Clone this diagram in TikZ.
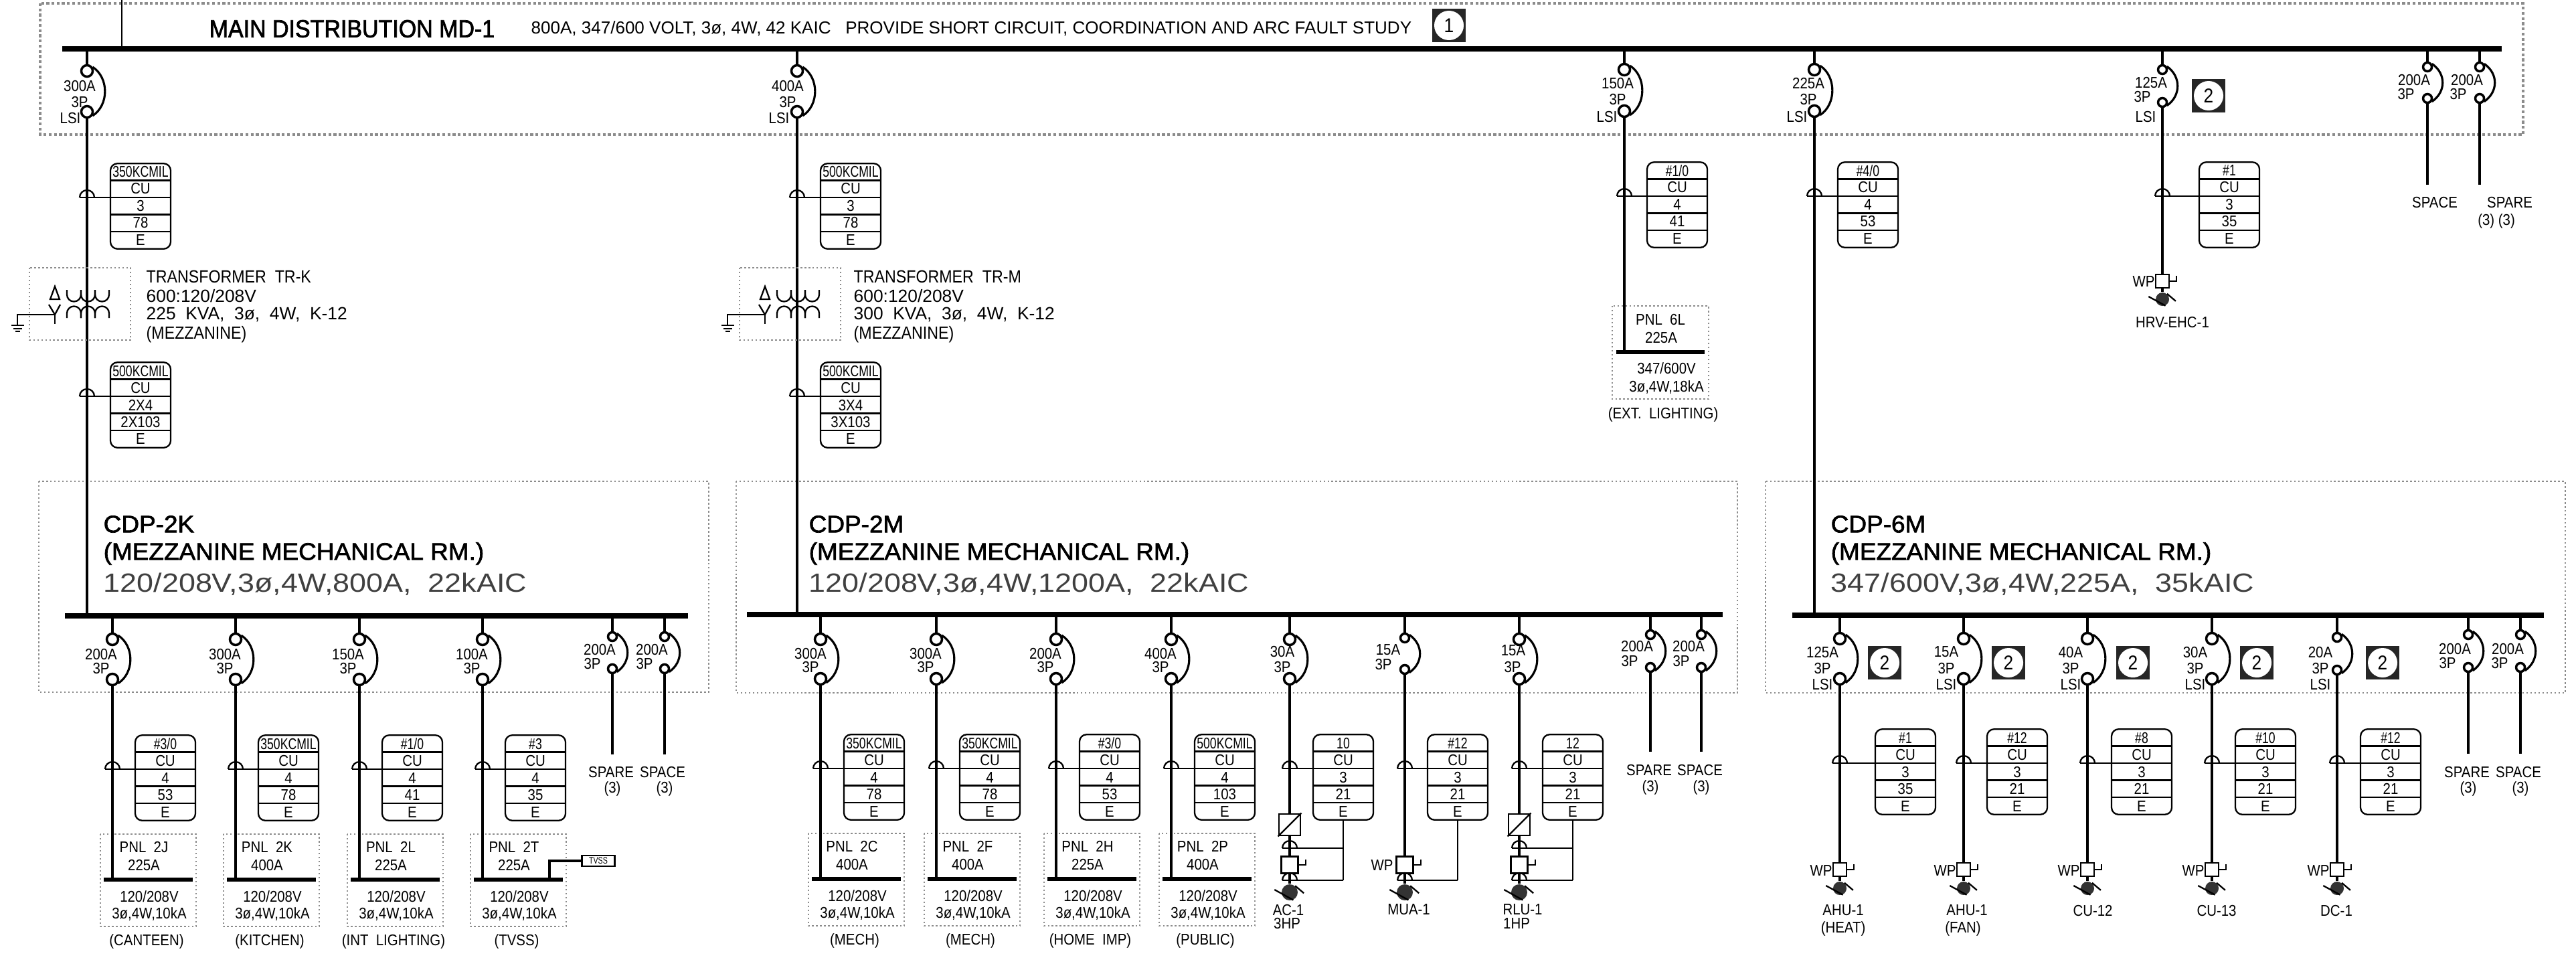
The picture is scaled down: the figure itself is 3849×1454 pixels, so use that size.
\documentclass[tikz,border=0pt]{standalone}
\usepackage{fontspec}
\newfontfamily\cadfont[FakeStretch=0.88]{Liberation Sans}
\newfontfamily\cadnarrow[FakeStretch=0.76]{Liberation Sans}
\newfontfamily\cadmid[FakeStretch=1.0]{Liberation Sans}
\newfontfamily\cadwide[FakeStretch=1.14]{Liberation Sans}
\newfontfamily\cadtitle[FakeStretch=0.92,FakeBold=2]{Liberation Sans}
\newfontfamily\cadhead[FakeStretch=1.03,FakeBold=2]{Liberation Sans}

\newcommand{\brk}[7]{
	\node [#6] (#1t) at (#2,#3) {};
	\node [#6] (#1b) at (#2,#4) {};
	\draw [feeder] (#1t) -- (#1t |- #7);
	\draw [brkarc] (#1t.35) .. controls (#2+#5+3,#3+10) and (#2+#5+3,#4-10) .. (#1b.-35);
}
\newcommand{\rating}[6]{
	\node [lbl] (#1a) at (#2,#4) {#6};
	\node [lbl] (#1p) at (#3,#4+#5) {3P};
}
\newcommand{\run}[2]{\draw [feeder] (#1) -- (#1 |- #2);}
\newcommand{\wirebox}[8]{
	\node [wbox] (#1) at (#2+45,#3+64) {};
	\node [lbl,font=\cadnarrow\fontsize{6.6}{7}\selectfont] (#1v) at (#2+45,#3+13) {#4};
	\node [lbl] (#1w) at (#2+45,#3+38) {#5};
	\node [lbl] (#1x) at (#2+45,#3+64) {#6};
	\node [lbl] (#1y) at (#2+45,#3+89) {#7};
	\node [lbl] (#1z) at (#2+45,#3+115) {#8};
	\foreach \k in {1,...,4} {
		\coordinate (#1r\k) at (#2,#3+\k*25.5);
		\draw [wire] (#1r\k) -- ++(90,0);
	}
}
\newcommand{\tap}[3]{
	\coordinate (#1) at (#2 |- #3);
	\draw [wire] (#1) ++(-11,0) arc [start angle=180,delta angle=180,radius=11];
	\draw [wire] (#1) ++(-11,0) -- (#3);
}
\newcommand{\panel}[8]{
	\draw [dotbox] (#2-18,#3-68) rectangle (#2+125,#3+70);
	\coordinate (#1l) at (#2-13,#3);
	\coordinate (#1r) at (#2+120,#3);
	\draw [pbus] (#1l) -- (#1r);
	\node [lbl] (#1a) at (#2+47,#3-49) {#4};
	\node [lbl] (#1b) at (#2+47,#3-22) {#5};
	\node [lbl] (#1c) at (#2+55,#3+25) {#6};
	\node [lbl] (#1d) at (#2+55,#3+52) {#7};
	\node [lbl] (#1e) at (#2+51,#3+92) {#8};
}
\newcommand{\starter}[6]{
	\node [#5] (#1s) at (#2,#3) {};
	\node [#6] (#1m) at (#2,#3+#4) {};
	\draw [feeder] (#1s) -- (#1m);
	\draw [wire] (#1s.east) -- ++(10,0) -- ++(0,-8);
	\draw [wire] (#1m.west) ++(-10,-4) -- (#1m.-65);
	\draw [wire] (#1m.50) -- ++(13,11);
}
\newcommand{\marker}[4]{
	\node [mkbox] (#1) at (#2,#3) {};
	\node [mkdisc] (#1d) at (#2,#3) {#4};
}
\newcommand{\xfmr}[2]{
	\draw [dotbox] (#2-86,400) rectangle (#2+65,508);
	\draw [wire] (#2-48,428) -- (#2-55,447) -- (#2-41,447) -- cycle;
	\draw [wire] (#2-57,455) -- (#2-48,470) -- (#2-40,455);
	\draw [wire] (#2-48,470) -- (#2-48,484);
	\draw [wire] (#2-48,470) -- (#2-104,470) -- (#2-104,486);
	\draw [wire] (#2-113,486) -- (#2-94,486);
	\draw [wire] (#2-110,491) -- (#2-97,491);
	\draw [wire] (#2-107,495) -- (#2-100,495);
	\foreach \k in {0,1,2} {
		\draw [wire] (#2-30+21*\k,433) -- ++(0,7) arc [start angle=180,delta angle=-180,radius=10.5] -- ++(0,-7);
		\draw [wire] (#2-30+21*\k,475) -- ++(0,-7) arc [start angle=180,delta angle=180,radius=10.5] -- ++(0,7);
	}
}

\begin{document}
\begin{tikzpicture}[x=0.01cm,y=-0.01cm,
	lbl/.style={inner sep=0pt,font=\cadfont\fontsize{6.6}{7}\selectfont},
	xtxt/.style={inner sep=0pt,anchor=west,align=left,font=\cadfont\fontsize{7.5}{8.25}\selectfont},
	feeder/.style={line width=1pt},
	wire/.style={line width=0.65pt},
	brkarc/.style={line width=0.9pt},
	mbus/.style={line width=2.4pt},
	pbus/.style={line width=1.9pt},
	brkbig/.style={circle,draw,line width=1pt,fill=white,inner sep=0pt,minimum size=0.17cm},
	brksm/.style={circle,draw,line width=1pt,fill=white,inner sep=0pt,minimum size=0.13cm},
	wbox/.style={draw,line width=0.65pt,rounded corners=3pt,minimum width=0.9cm,minimum height=1.275cm,inner sep=0pt},
	dotbox/.style={draw=black!45,densely dotted,line width=0.7pt},
	sqbig/.style={draw,line width=0.7pt,inner sep=0pt,minimum size=0.25cm},
	sqsm/.style={draw,line width=0.7pt,inner sep=0pt,minimum size=0.2cm},
	ballbig/.style={circle,fill=black!80,inner sep=0pt,minimum size=0.24cm},
	ballsm/.style={circle,fill=black!80,inner sep=0pt,minimum size=0.2cm},
	discbox/.style={draw,line width=0.8pt,inner sep=0pt,minimum size=0.32cm},
	mkbox/.style={fill=black!85,inner sep=0pt,minimum size=0.5cm},
	mkdisc/.style={circle,fill=white,inner sep=0pt,minimum size=0.44cm,font=\cadfont\fontsize{8.5}{9}\selectfont},
	headtxt/.style={inner sep=0pt,anchor=west,font=\cadhead\fontsize{10.2}{11}\selectfont},
	ratetxt/.style={inner sep=0pt,anchor=west,text=black!75,font=\cadwide\fontsize{11.2}{12}\selectfont}]
	\useasboundingbox (0,0) rectangle (3849,1454);

	\draw [dotbox,line width=1.2pt] (60,5) rectangle (3770,201);
	\draw [dotbox] (58,719) rectangle (1059,1034);
	\draw [dotbox] (1100,719) rectangle (2596,1035);
	\draw [dotbox] (2638,719) rectangle (3833,1035);

	\coordinate (mbl) at (93,73);
	\coordinate (mbr) at (3738,73);
	\coordinate (kbl) at (97,920);
	\coordinate (kbr) at (1028,920);
	\coordinate (mzl) at (1116,918);
	\coordinate (mzr) at (2574,918);
	\coordinate (sxl) at (2678,919);
	\coordinate (sxr) at (3801,919);
	\draw [mbus] (mbl) -- (mbr);
	\draw [mbus] (kbl) -- (kbr);
	\draw [mbus] (mzl) -- (mzr);
	\draw [mbus] (sxl) -- (sxr);

	\coordinate (inc) at (182,0);
	\draw [wire,line width=0.8pt] (inc) -- (inc |- mbl);

	\node [inner sep=0pt,anchor=west,font=\cadtitle\fontsize{10.5}{11}\selectfont] (title) at (312,43) {MAIN DISTRIBUTION MD-1};
	\node [inner sep=0pt,anchor=west,font=\cadmid\fontsize{7.4}{8}\selectfont] (subtitle) at (793,43) {800A, 347/600 VOLT, 3ø, 4W, 42 KAIC\ \ \ PROVIDE SHORT CIRCUIT, COORDINATION AND ARC FAULT STUDY};
	\marker{mk1}{2165}{38}{1}

	\brk{q1}{130}{106}{167}{30}{brkbig}{mbl}
	\rating{q1r}{119}{119}{129}{24}{300A}
	\node [lbl] (q1l) at (105,177) {LSI};
	\brk{q2}{1191}{106}{167}{30}{brkbig}{mbl}
	\rating{q2r}{1177}{1177}{129}{24}{400A}
	\node [lbl] (q2l) at (1164,177) {LSI};
	\brk{q3}{2427}{104}{166}{30}{brkbig}{mbl}
	\rating{q3r}{2417}{2417}{125}{24}{150A}
	\node [lbl] (q3l) at (2401,175) {LSI};
	\brk{q4}{2711}{104}{166}{30}{brkbig}{mbl}
	\rating{q4r}{2702}{2702}{125}{24}{225A}
	\node [lbl] (q4l) at (2685,175) {LSI};
	\brk{q5}{3231}{104}{153}{25}{brksm}{mbl}
	\rating{q5r}{3214}{3201}{124}{21}{125A}
	\node [lbl] (q5l) at (3206,175) {LSI};
	\brk{q6}{3627}{100}{147}{25}{brksm}{mbl}
	\rating{q6r}{3607}{3595}{120}{21}{200A}
	\brk{q7}{3705}{100}{147}{25}{brksm}{mbl}
	\rating{q7r}{3686}{3673}{120}{21}{200A}
	\marker{mk2}{3300}{143}{2}

	\run{q1b}{kbl}
	\run{q2b}{mzl}
	\run{q4b}{sxl}

	\wirebox{wa}{165}{244}{350KCMIL}{CU}{3}{78}{E}
	\tap{ta}{q1b}{war2}
	\xfmr{tk}{130}
	\node [xtxt] (tka) at (218,413) {TRANSFORMER\ \ TR-K};
	\node [xtxt,font=\cadmid\fontsize{7.5}{8.25}\selectfont] (tkb) at (218,442) {600:120/208V};
	\node [xtxt,font=\cadmid\fontsize{7.5}{8.25}\selectfont] (tkc) at (218,470) {225\ \ KVA,\ \ 3ø,\ \ 4W,\ \ K-12};
	\node [xtxt] (tkd) at (218,500) {(MEZZANINE)};
	\wirebox{wb}{165}{541}{500KCMIL}{CU}{2X4}{2X103}{E}
	\tap{tb}{q1b}{wbr2}

	\wirebox{wc}{1226}{244}{500KCMIL}{CU}{3}{78}{E}
	\tap{tc}{q2b}{wcr2}
	\xfmr{tm}{1191}
	\node [xtxt] (tma) at (1275,413) {TRANSFORMER\ \ TR-M};
	\node [xtxt,font=\cadmid\fontsize{7.5}{8.25}\selectfont] (tmb) at (1275,442) {600:120/208V};
	\node [xtxt,font=\cadmid\fontsize{7.5}{8.25}\selectfont] (tmc) at (1275,470) {300\ \ KVA,\ \ 3ø,\ \ 4W,\ \ K-12};
	\node [xtxt] (tmd) at (1275,500) {(MEZZANINE)};
	\wirebox{wd}{1226}{541}{500KCMIL}{CU}{3X4}{3X103}{E}
	\tap{td}{q2b}{wdr2}

	\wirebox{we}{2461}{242}{\#1/0}{CU}{4}{41}{E}
	\draw [dotbox] (2409,457) rectangle (2553,596);
	\coordinate (p6ll) at (2415,526);
	\coordinate (p6lr) at (2547,526);
	\draw [pbus] (p6ll) -- (p6lr);
	\node [lbl] (p6la) at (2481,477) {PNL\ \ 6L};
	\node [lbl] (p6lb) at (2482,504) {225A};
	\node [lbl] (p6lc) at (2490,550) {347/600V};
	\node [lbl] (p6ld) at (2490,579) {3ø,4W,18kA};
	\node [lbl] (p6le) at (2485,619) {(EXT.\ \ LIGHTING)};
	\run{q3b}{p6ll}
	\tap{te}{q3b}{wer2}
	\wirebox{wf}{2746}{242}{\#4/0}{CU}{4}{53}{E}
	\tap{tf}{q4b}{wfr2}
	\wirebox{wg}{3286}{242}{\#1}{CU}{3}{35}{E}
	\starter{hv}{3231}{420}{27}{sqsm}{ballsm}
	\draw [feeder] (q5b) -- (hvs);
	\tap{tg}{q5b}{wgr2}
	\node [lbl] (hvw) at (3203,421) {WP};
	\node [lbl] (hvn) at (3246,481) {HRV-EHC-1};

	\coordinate (s6) at (3627,276);
	\coordinate (s7) at (3705,276);
	\draw [feeder] (q6b) -- (s6);
	\draw [feeder] (q7b) -- (s7);
	\node [lbl] (s6a) at (3638,303) {SPACE};
	\node [lbl] (s7a) at (3750,303) {SPARE};
	\node [lbl] (s7b) at (3730,330) {(3)\ (3)};

	\node [headtxt] (ka) at (154,783) {CDP-2K};
	\node [headtxt] (kb) at (154,827) {(MEZZANINE MECHANICAL RM.)};
	\node [ratetxt] (kc) at (154,873) {120/208V,3ø,4W,800A,\ \ 22kAIC};
	\node [headtxt] (ma) at (1208,783) {CDP-2M};
	\node [headtxt] (mb) at (1208,827) {(MEZZANINE MECHANICAL RM.)};
	\node [ratetxt] (mc) at (1208,873) {120/208V,3ø,4W,1200A,\ \ 22kAIC};
	\node [headtxt] (xa) at (2735,783) {CDP-6M};
	\node [headtxt] (xb) at (2735,827) {(MEZZANINE MECHANICAL RM.)};
	\node [ratetxt] (xc) at (2735,873) {347/600V,3ø,4W,225A,\ \ 35kAIC};

	\brk{k1}{168}{955}{1015}{30}{brkbig}{kbl}
	\rating{k1r}{151}{151}{977}{21}{200A}
	\wirebox{wk1}{202}{1098}{\#3/0}{CU}{4}{53}{E}
	\panel{pk1}{168}{1314}{PNL\ \ 2J}{225A}{120/208V}{3ø,4W,10kA}{(CANTEEN)}
	\run{k1b}{pk1l}
	\tap{tk1}{k1b}{wk1r2}
	\brk{k2}{352}{955}{1015}{30}{brkbig}{kbl}
	\rating{k2r}{336}{336}{977}{21}{300A}
	\wirebox{wk2}{386}{1098}{350KCMIL}{CU}{4}{78}{E}
	\panel{pk2}{352}{1314}{PNL\ \ 2K}{400A}{120/208V}{3ø,4W,10kA}{(KITCHEN)}
	\run{k2b}{pk2l}
	\tap{tk2}{k2b}{wk2r2}
	\brk{k3}{537}{955}{1015}{30}{brkbig}{kbl}
	\rating{k3r}{520}{520}{977}{21}{150A}
	\wirebox{wk3}{571}{1098}{\#1/0}{CU}{4}{41}{E}
	\panel{pk3}{537}{1314}{PNL\ \ 2L}{225A}{120/208V}{3ø,4W,10kA}{(INT\ \ LIGHTING)}
	\run{k3b}{pk3l}
	\tap{tk3}{k3b}{wk3r2}
	\brk{k4}{721}{955}{1015}{30}{brkbig}{kbl}
	\rating{k4r}{705}{705}{977}{21}{100A}
	\wirebox{wk4}{755}{1098}{\#3}{CU}{4}{35}{E}
	\panel{pk4}{721}{1314}{PNL\ \ 2T}{225A}{120/208V}{3ø,4W,10kA}{(TVSS)}
	\run{k4b}{pk4l}
	\tap{tk4}{k4b}{wk4r2}
	\node [draw,line width=0.7pt,inner sep=0pt,minimum width=0.49cm,minimum height=0.16cm,font=\cadnarrow\fontsize{4}{5}\selectfont] (tvss) at (894,1286) {TVSS};
	\coordinate (tvj) at (821,1314);
	\draw [feeder] (tvj) |- (tvss);
	\brk{k5}{915}{951}{999}{25}{brksm}{kbl}
	\rating{k5r}{896}{885}{970}{21}{200A}
	\brk{k6}{993}{951}{999}{25}{brksm}{kbl}
	\rating{k6r}{974}{963}{970}{21}{200A}
	\coordinate (ks5) at (915,1127);
	\coordinate (ks6) at (993,1127);
	\draw [feeder] (k5b) -- (ks5);
	\draw [feeder] (k6b) -- (ks6);
	\node [lbl] (ks5a) at (913,1153) {SPARE};
	\node [lbl] (ks6a) at (990,1153) {SPACE};
	\node [lbl] (ks5b) at (915,1178) {(3)};
	\node [lbl] (ks6b) at (993,1178) {(3)};

	\brk{m1}{1226}{955}{1014}{30}{brkbig}{mzl}
	\rating{m1r}{1211}{1211}{976}{20}{300A}
	\wirebox{wm1}{1261}{1097}{350KCMIL}{CU}{4}{78}{E}
	\panel{pm1}{1226}{1313}{PNL\ \ 2C}{400A}{120/208V}{3ø,4W,10kA}{(MECH)}
	\run{m1b}{pm1l}
	\tap{tm1}{m1b}{wm1r2}
	\brk{m2}{1399}{955}{1014}{30}{brkbig}{mzl}
	\rating{m2r}{1383}{1383}{976}{20}{300A}
	\wirebox{wm2}{1434}{1097}{350KCMIL}{CU}{4}{78}{E}
	\panel{pm2}{1399}{1313}{PNL\ \ 2F}{400A}{120/208V}{3ø,4W,10kA}{(MECH)}
	\run{m2b}{pm2l}
	\tap{tm2}{m2b}{wm2r2}
	\brk{m3}{1578}{955}{1014}{30}{brkbig}{mzl}
	\rating{m3r}{1562}{1562}{976}{20}{200A}
	\wirebox{wm3}{1613}{1097}{\#3/0}{CU}{4}{53}{E}
	\panel{pm3}{1578}{1313}{PNL\ \ 2H}{225A}{120/208V}{3ø,4W,10kA}{(HOME\ \ IMP)}
	\run{m3b}{pm3l}
	\tap{tm3}{m3b}{wm3r2}
	\brk{m4}{1750}{955}{1014}{30}{brkbig}{mzl}
	\rating{m4r}{1734}{1734}{976}{20}{400A}
	\wirebox{wm4}{1785}{1097}{500KCMIL}{CU}{4}{103}{E}
	\panel{pm4}{1750}{1313}{PNL\ \ 2P}{400A}{120/208V}{3ø,4W,10kA}{(PUBLIC)}
	\run{m4b}{pm4l}
	\tap{tm4}{m4b}{wm4r2}

	\brk{m5}{1927}{955}{1014}{30}{brkbig}{mzl}
	\rating{m5r}{1916}{1916}{973}{23}{30A}
	\wirebox{wm5}{1962}{1097}{10}{CU}{3}{21}{E}
	\tap{tm5}{m5b}{wm5r2}
	\node [discbox] (acd) at (1927,1232) {};
	\draw [wire] (acd.south west) -- (acd.north east);
	\starter{ac}{1927}{1292}{41}{sqbig}{ballbig}
	\draw [feeder] (m5b) -- (acd);
	\draw [feeder] (acd) -- (acs);
	\coordinate (acj1) at (2007,1267);
	\coordinate (acj2) at (2007,1315);
	\draw [wire] (wm5.south) -- (acj2);
	\tap{tac1}{acd}{acj1}
	\tap{tac2}{acd}{acj2}
	\node [lbl] (acn) at (1925,1359) {AC-1};
	\node [lbl] (ach) at (1923,1379) {3HP};

	\brk{m6}{2099}{953}{1000}{25}{brksm}{mzl}
	\rating{m6r}{2074}{2067}{971}{21}{15A}
	\wirebox{wm6}{2133}{1097}{\#12}{CU}{3}{21}{E}
	\tap{tm6}{m6b}{wm6r2}
	\starter{mu}{2099}{1292}{41}{sqbig}{ballbig}
	\draw [feeder] (m6b) -- (mus);
	\coordinate (muj) at (2178,1315);
	\draw [wire] (wm6.south) -- (muj);
	\tap{tmu}{m6b}{muj}
	\node [lbl] (muw) at (2065,1292) {WP};
	\node [lbl] (mun) at (2105,1359) {MUA-1};

	\brk{m7}{2270}{955}{1014}{30}{brkbig}{mzl}
	\rating{m7r}{2261}{2260}{972}{24}{15A}
	\wirebox{wm7}{2305}{1097}{12}{CU}{3}{21}{E}
	\tap{tm7}{m7b}{wm7r2}
	\node [discbox] (rld) at (2270,1232) {};
	\draw [wire] (rld.south west) -- (rld.north east);
	\starter{rl}{2270}{1292}{41}{sqbig}{ballbig}
	\draw [feeder] (m7b) -- (rld);
	\draw [feeder] (rld) -- (rls);
	\coordinate (rlj1) at (2350,1267);
	\coordinate (rlj2) at (2350,1315);
	\draw [wire] (wm7.south) -- (rlj2);
	\tap{trl1}{rld}{rlj1}
	\tap{trl2}{rld}{rlj2}
	\node [lbl] (rln) at (2275,1359) {RLU-1};
	\node [lbl] (rlh) at (2266,1379) {1HP};

	\brk{m8}{2466}{948}{997}{25}{brksm}{mzl}
	\rating{m8r}{2446}{2435}{965}{22}{200A}
	\brk{m9}{2542}{948}{997}{25}{brksm}{mzl}
	\rating{m9r}{2523}{2512}{965}{22}{200A}
	\coordinate (ms8) at (2466,1123);
	\coordinate (ms9) at (2542,1123);
	\draw [feeder] (m8b) -- (ms8);
	\draw [feeder] (m9b) -- (ms9);
	\node [lbl] (ms8a) at (2464,1150) {SPARE};
	\node [lbl] (ms9a) at (2540,1150) {SPACE};
	\node [lbl] (ms8b) at (2466,1176) {(3)};
	\node [lbl] (ms9b) at (2542,1176) {(3)};

	\brk{x1}{2749}{954}{1014}{30}{brkbig}{sxl}
	\rating{x1r}{2723}{2723}{974}{24}{125A}
	\node [lbl] (x1l) at (2723,1022) {LSI};
	\marker{mx1}{2816}{990}{2}
	\wirebox{wx1}{2802}{1089}{\#1}{CU}{3}{35}{E}
	\tap{tx1}{x1b}{wx1r2}
	\starter{sx1}{2749}{1299}{28}{sqsm}{ballsm}
	\draw [feeder] (x1b) -- (sx1s);
	\node [lbl] (sx1w) at (2721,1300) {WP};
	\node [lbl] (sx1n) at (2754,1360) {AHU-1};
	\node [lbl] (sx1h) at (2754,1387) {(HEAT)};

	\brk{x2}{2934}{954}{1014}{30}{brkbig}{sxl}
	\rating{x2r}{2908}{2908}{974}{24}{15A}
	\node [lbl] (x2l) at (2908,1022) {LSI};
	\marker{mx2}{3001}{990}{2}
	\wirebox{wx2}{2969}{1089}{\#12}{CU}{3}{21}{E}
	\tap{tx2}{x2b}{wx2r2}
	\starter{sx2}{2934}{1299}{28}{sqsm}{ballsm}
	\draw [feeder] (x2b) -- (sx2s);
	\node [lbl] (sx2w) at (2906,1300) {WP};
	\node [lbl] (sx2n) at (2939,1360) {AHU-1};
	\node [lbl] (sx2h) at (2933,1387) {(FAN)};

	\brk{x3}{3119}{954}{1014}{30}{brkbig}{sxl}
	\rating{x3r}{3094}{3094}{974}{24}{40A}
	\node [lbl] (x3l) at (3094,1022) {LSI};
	\marker{mx3}{3187}{990}{2}
	\wirebox{wx3}{3155}{1089}{\#8}{CU}{3}{21}{E}
	\tap{tx3}{x3b}{wx3r2}
	\starter{sx3}{3119}{1299}{28}{sqsm}{ballsm}
	\draw [feeder] (x3b) -- (sx3s);
	\node [lbl] (sx3w) at (3091,1300) {WP};
	\node [lbl] (sx3n) at (3127,1360) {CU-12};

	\brk{x4}{3305}{954}{1014}{30}{brkbig}{sxl}
	\rating{x4r}{3280}{3280}{974}{24}{30A}
	\node [lbl] (x4l) at (3280,1022) {LSI};
	\marker{mx4}{3372}{990}{2}
	\wirebox{wx4}{3340}{1089}{\#10}{CU}{3}{21}{E}
	\tap{tx4}{x4b}{wx4r2}
	\starter{sx4}{3305}{1299}{28}{sqsm}{ballsm}
	\draw [feeder] (x4b) -- (sx4s);
	\node [lbl] (sx4w) at (3277,1300) {WP};
	\node [lbl] (sx4n) at (3312,1360) {CU-13};

	\brk{x5}{3492}{952}{1001}{25}{brksm}{sxl}
	\rating{x5r}{3467}{3467}{974}{24}{20A}
	\node [lbl] (x5l) at (3467,1022) {LSI};
	\marker{mx5}{3560}{990}{2}
	\wirebox{wx5}{3527}{1089}{\#12}{CU}{3}{21}{E}
	\tap{tx5}{x5b}{wx5r2}
	\starter{sx5}{3492}{1299}{28}{sqsm}{ballsm}
	\draw [feeder] (x5b) -- (sx5s);
	\node [lbl] (sx5w) at (3464,1300) {WP};
	\node [lbl] (sx5n) at (3491,1360) {DC-1};

	\brk{x6}{3688}{948}{997}{25}{brksm}{sxl}
	\rating{x6r}{3668}{3657}{969}{21}{200A}
	\brk{x7}{3766}{948}{997}{25}{brksm}{sxl}
	\rating{x7r}{3747}{3735}{969}{21}{200A}
	\coordinate (xs6) at (3688,1126);
	\coordinate (xs7) at (3766,1126);
	\draw [feeder] (x6b) -- (xs6);
	\draw [feeder] (x7b) -- (xs7);
	\node [lbl] (xs6a) at (3686,1153) {SPARE};
	\node [lbl] (xs7a) at (3763,1153) {SPACE};
	\node [lbl] (xs6b) at (3688,1178) {(3)};
	\node [lbl] (xs7b) at (3766,1178) {(3)};
\end{tikzpicture}
\end{document}
